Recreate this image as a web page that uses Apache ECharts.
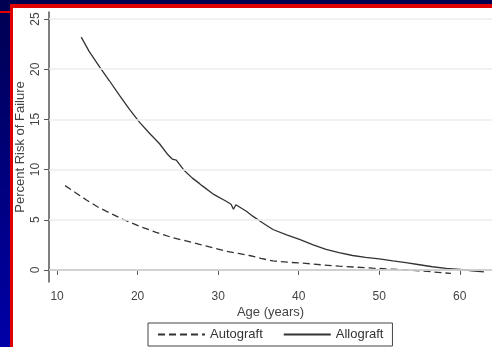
<!DOCTYPE html>
<html>
<head>
<meta charset="utf-8">
<script src="https://cdn.jsdelivr.net/npm/echarts@6/dist/echarts.min.js"></script>
<style>
  html, body { margin: 0; padding: 0; }
  body {
    width: 492px; height: 347px; overflow: hidden; position: relative;
    background: linear-gradient(#000050, #0000a8);
  }
  .red { position: absolute; background: #e00000; }
  #panel { position: absolute; left: 13px; top: 8px; right: 0; bottom: 0; background: #fff; }
  #main { position: absolute; left: 0; top: 0; width: 492px; height: 347px; }
</style>
</head>
<body>
<div class="red" style="left:10px;top:4px;width:482px;height:4px"></div>
<div class="red" style="left:10px;top:4px;width:3px;height:343px"></div>
<div class="red" style="left:0;top:11px;width:10px;height:2px"></div>
<div id="panel"></div>
<div id="main"></div>
<script>
// age (years) vs percent risk of failure
var autograft = [
  [11, 8.4], [12.3, 7.7], [13.6, 7.0], [15, 6.3], [16.5, 5.7], [18.3, 5.0],
  [20.2, 4.36], [22.3, 3.75], [24.4, 3.2], [26, 2.9], [27.7, 2.54], [29.4, 2.2],
  [31, 1.87], [32.5, 1.65], [33.9, 1.44], [35.3, 1.15], [36.8, 0.9], [38.8, 0.76],
  [40.9, 0.65], [43, 0.5], [45, 0.38], [47.1, 0.28], [49.2, 0.18], [51.3, 0.09],
  [53.3, 0.0], [56, -0.15], [58.9, -0.35]
]
var allograft = [
  [13, 23.2], [14, 21.75], [15.3, 20.2], [16.5, 18.85], [17.75, 17.4], [19, 16.0],
  [20.2, 14.75], [21.5, 13.6], [22.7, 12.6], [23.8, 11.45], [24.3, 11.05], [24.8, 10.95],
  [25.8, 9.9], [26.8, 9.15], [27.7, 8.6], [28, 8.4], [29.5, 7.5], [31, 6.85],
  [31.6, 6.55], [31.9, 6.05], [32.2, 6.5], [33.5, 5.85], [34.3, 5.36], [35.5, 4.7],
  [36.8, 4.03], [38.5, 3.5], [40.1, 3.04], [41.8, 2.5], [43.4, 2.04], [45, 1.72],
  [46.7, 1.44], [48.3, 1.25], [50, 1.1], [51.7, 0.9], [53.3, 0.72], [55, 0.52],
  [56.6, 0.32], [58.3, 0.15], [60, 0.05], [61.5, -0.1], [63, -0.2]
]
var xTicks = [10, 20, 30, 40, 50, 60]
var yTicks = [0, 5, 10, 15, 20, 25]

var font = 'Liberation Sans, Arial, sans-serif'
var txt = '#444'

var myChart = echarts.init(document.getElementById('main'))
myChart.setOption({
  animation: false,
  textStyle: { fontFamily: font },
  grid: { left: 49, right: 0, top: 12, bottom: 65 },
  legend: {
    left: 148,
    top: 323,
    padding: [5, 9, 5, 9],
    borderColor: '#444',
    borderWidth: 1,
    itemWidth: 47,
    itemHeight: 10,
    itemGap: 20,
    itemStyle: { opacity: 0 },
    textStyle: { fontFamily: font, fontSize: 13, color: '#333' },
    data: ['Autograft', 'Allograft']
  },
  xAxis: {
    type: 'value',
    min: 9,
    max: 64,
    name: 'Age (years)',
    nameLocation: 'middle',
    nameGap: 24,
    nameMoveOverlap: false,
    nameTextStyle: { fontFamily: font, fontSize: 13, color: txt },
    axisLine: { lineStyle: { color: '#555', width: 1.5 } },
    axisTick: { customValues: xTicks, length: 5, lineStyle: { color: '#555' } },
    axisLabel: { customValues: xTicks, margin: 9, fontSize: 12, color: txt },
    splitLine: { show: false }
  },
  yAxis: {
    type: 'value',
    min: -1.2,
    max: 25.7,
    name: 'Percent Risk of Failure',
    nameLocation: 'middle',
    nameGap: 22,
    nameRotate: 90,
    nameMoveOverlap: false,
    nameTextStyle: { fontFamily: font, fontSize: 13, color: txt },
    axisLine: { show: true, lineStyle: { color: '#555', width: 1.5 } },
    axisTick: { show: true, customValues: yTicks, length: 5, lineStyle: { color: '#555' } },
    axisLabel: { customValues: yTicks, rotate: 90, margin: 7, fontSize: 12, color: txt },
    splitLine: { show: false }
  },
  series: [
    {
      name: 'Autograft',
      type: 'line',
      data: autograft,
      symbol: 'none',
      lineStyle: { color: '#333', width: 1.3, type: [7, 4] },
      itemStyle: { color: '#333' },
      markLine: {
        silent: true,
        symbol: 'none',
        label: { show: false },
        lineStyle: { color: '#ececec', width: 1.5, type: 'solid' },
        data: yTicks.map(function (v) { return { yAxis: v } })
      },
      z: 3
    },
    {
      name: 'Allograft',
      type: 'line',
      data: allograft,
      symbol: 'none',
      lineStyle: { color: '#333', width: 1.3 },
      itemStyle: { color: '#333' },
      z: 3
    }
  ]
})
</script>
</body>
</html>
